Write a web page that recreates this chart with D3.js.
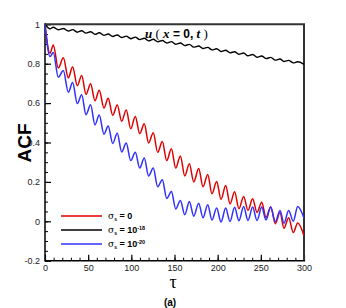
<!DOCTYPE html>
<html><head><meta charset="utf-8">
<script src="https://cdn.jsdelivr.net/npm/d3@7"></script>
<style>body{margin:0;background:#fff}svg{display:block}</style>
</head><body>
<svg id="c" width="346" height="308"></svg>
<script>
const tau = [0,5.8,9.6,15.4,21.2,27,32,37.4,42.5,47.5,52.8,57.9,62.8,68.3,73.2,78.4,83.7,88.8,94.1,99.3,104.6,109.7,115,120,125.4,130.5,135.9,141,146.4,151.4,156.8,161.9,167.2,172.3,178,183,188.5,193.4,198.8,203.9,209.3,214.3,219.6,224.6,230.1,235.1,240.5,245.6,251,256,261.4,266.8,272.2,276.8,282.2,287.6,292.7,300];
const acfSigma0 = [1,.853,.895,.778,.830,.728,.785,.688,.740,.644,.698,.612,.665,.575,.625,.538,.590,.508,.565,.47,.532,.445,.495,.398,.45,.35,.405,.308,.368,.27,.332,.23,.292,.2,.268,.175,.238,.14,.202,.112,.182,.088,.150,.064,.126,.055,.114,.045,.097,.02,.072,-.012,.045,-.035,.018,-.057,-.009,-.074];
const acfSigma18 = [1,.977,.985,.972,.979,.966,.973,.960,.967,.955,.962,.949,.957,.944,.951,.938,.946,.933,.940,.927,.935,.922,.929,.916,.924,.911,.918,.905,.912,.899,.905,.892,.898,.884,.890,.877,.883,.870,.876,.862,.868,.855,.861,.848,.854,.840,.847,.833,.839,.826,.832,.818,.824,.811,.817,.804,.810,.797];
const acfSigma20 = [1,.836,.857,.731,.765,.655,.704,.598,.642,.541,.591,.49,.540,.442,.484,.395,.447,.352,.397,.308,.350,.27,.321,.23,.270,.175,.211,.116,.151,.063,.106,.033,.100,.026,.092,.018,.084,.006,.067,-.003,.067,-.001,.071,.003,.075,.004,.072,.004,.072,.007,.072,-.002,.055,-.01,.055,0,.075,.016];
const xTicks = [0,50,100,150,200,250,300];
const yTicks = [-0.2,0,0.2,0.4,0.6,0.8,1];
const yTickLabels = ["-0.2","0","0.2","0.4","0.6","0.8","1"];
const seriesNames = ["0","10","10"];
const seriesExp = ["","-18","-20"];
const seriesColors = ["#e00000","#000000","#3030ff"];

const svg = d3.select("#c");
const L=45,R=304,T=24.3,B=260.7;
const x = d3.scaleLinear().domain([0,300]).range([L,R]);
const y = d3.scaleLinear().domain([-0.2,1]).range([B,T]);
const font = "'Liberation Sans', Arial, sans-serif";

svg.append("defs").append("clipPath").attr("id","clp").append("rect")
  .attr("x",L).attr("y",T).attr("width",R-L).attr("height",B-T);

// minor ticks
const xMinor = d3.axisBottom(x).tickValues(d3.range(0,301,10)).tickSize(-3).tickFormat("");
const yMinor = d3.axisLeft(y).tickValues(d3.range(-0.2,1.001,0.05)).tickSize(-3).tickFormat("");
svg.append("g").attr("transform",`translate(0,${B})`).call(xMinor).call(g=>g.select(".domain").remove()).selectAll("line").attr("stroke","#000");
svg.append("g").attr("transform",`translate(${L},0)`).call(yMinor).call(g=>g.select(".domain").remove()).selectAll("line").attr("stroke","#000");

const xAxis = d3.axisBottom(x).tickValues(xTicks).tickSizeInner(-6).tickSizeOuter(0).tickPadding(4);
const gx = svg.append("g").attr("transform",`translate(0,${B})`).call(xAxis);
gx.select(".domain").remove();
gx.selectAll("line").attr("stroke","#000").attr("stroke-width",1.2);
gx.selectAll("text").attr("font-family",font).attr("font-size",9).attr("fill","#222").attr("dy","0.9em").attr("y",2.5);

const yAxis = d3.axisLeft(y).tickValues(yTicks).tickSizeInner(-6).tickSizeOuter(0).tickPadding(5)
  .tickFormat((d,i)=>yTickLabels[i]);
const gy = svg.append("g").attr("transform",`translate(${L},0)`).call(yAxis);
gy.select(".domain").remove();
gy.selectAll("line").attr("stroke","#000").attr("stroke-width",1.2);
gy.selectAll("text").attr("font-family",font).attr("font-size",9).attr("fill","#222").attr("x",-5);

// frame
svg.append("line").attr("x1",L).attr("x2",R+1).attr("y1",T).attr("y2",T).attr("stroke","#333").attr("stroke-width",2);
svg.append("line").attr("x1",R).attr("x2",R).attr("y1",T).attr("y2",B).attr("stroke","#333").attr("stroke-width",2);
svg.append("line").attr("x1",L).attr("x2",L).attr("y1",T-1).attr("y2",B+0.75).attr("stroke","#000").attr("stroke-width",1.5);
svg.append("line").attr("x1",L).attr("x2",R+1).attr("y1",B).attr("y2",B).attr("stroke","#000").attr("stroke-width",1.5);

const line = d3.line().x(d=>x(d[0])).y(d=>y(d[1])).curve(d3.curveMonotoneX);
const allSeries = [acfSigma0, acfSigma18, acfSigma20];
const plot = svg.append("g").attr("clip-path","url(#clp)");
[1,0,2].forEach(k=>{
  plot.append("path").datum(tau.map((t,i)=>[t,allSeries[k][i]]))
    .attr("d",line).attr("fill","none").attr("stroke",seriesColors[k])
    .attr("stroke-width",k===1?1.4:1.5);
});

// legend
const legY=[216,230,244];
seriesColors.forEach((c,i)=>{
  svg.append("line").attr("x1",61).attr("x2",102).attr("y1",legY[i]).attr("y2",legY[i]).attr("stroke",c).attr("stroke-width",1.5);
  const t = svg.append("text").attr("x",108).attr("y",legY[i]+3).attr("font-family",font).attr("font-size",9).attr("font-weight","bold").attr("fill","#000");
  t.append("tspan").attr("font-weight","normal").attr("font-family","'DejaVu Serif', serif").text("σ");
  t.append("tspan").attr("font-size",5).attr("dy",2).text("s");
  t.append("tspan").attr("dy",-2).text(" = "+seriesNames[i]);
  if(seriesExp[i]) t.append("tspan").attr("font-size",5.5).attr("dy",-3.5).text(seriesExp[i]);
});

// annotation
const ann = svg.append("text").attr("x",145).attr("y",38).attr("font-size",13).attr("font-weight","bold").attr("fill","#000");
ann.append("tspan").attr("font-family","'Liberation Serif', serif").attr("font-style","italic").text("u");
ann.append("tspan").attr("font-family","'Liberation Serif', serif").attr("font-weight","normal").text(" ( ");
ann.append("tspan").attr("font-family","'Liberation Serif', serif").attr("font-style","italic").text("x");
ann.append("tspan").attr("font-family",font).attr("font-size",12).text(" = 0, ");
ann.append("tspan").attr("font-family","'Liberation Serif', serif").attr("font-style","italic").text("t");
ann.append("tspan").attr("font-family","'Liberation Serif', serif").attr("font-weight","normal").text(" )");

// axis titles
svg.append("text").attr("transform","translate(24,143) rotate(-90)").attr("text-anchor","middle").attr("dominant-baseline","central")
  .attr("font-family",font).attr("font-weight","bold").attr("font-size",19).text("ACF");
svg.append("text").attr("x",173).attr("y",288).attr("text-anchor","middle").attr("font-family","'Liberation Serif', serif").attr("font-size",18).text("τ");
svg.append("text").attr("x",170).attr("y",306).attr("text-anchor","middle").attr("font-family",font).attr("font-weight","bold").attr("font-size",10).text("(a)");
</script>
</body></html>
